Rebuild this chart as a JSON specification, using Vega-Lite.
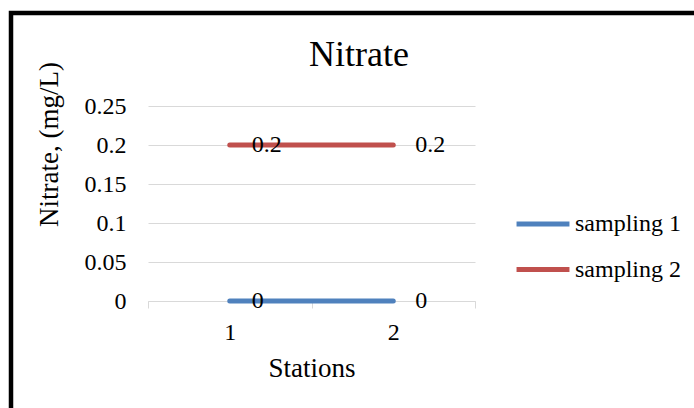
{
  "$schema": "https://vega.github.io/schema/vega-lite/v6.json",
  "autosize": {"type": "none"},
  "width": 690,
  "height": 402,
  "padding": {"left": 11, "top": 13, "right": -7, "bottom": -7},
  "background": "white",
  "title": {
    "text": "Nitrate",
    "frame": "group",
    "anchor": "middle",
    "baseline": "alphabetic",
    "offset": 0,
    "dx": 3,
    "dy": 89,
    "font": "Liberation Serif",
    "fontSize": 36,
    "fontWeight": "normal",
    "color": "#000000"
  },
  "data": {
    "values": [
      {"station": "1", "series": "sampling 1", "nitrate": 0},
      {"station": "2", "series": "sampling 1", "nitrate": 0},
      {"station": "1", "series": "sampling 2", "nitrate": 0.2},
      {"station": "2", "series": "sampling 2", "nitrate": 0.2}
    ]
  },
  "encoding": {
    "x": {
      "field": "station",
      "type": "ordinal",
      "bandPosition": 0.5,
      "scale": {"type": "band", "range": [137, 464], "paddingInner": 0, "paddingOuter": 0},
      "axis": {
        "orient": "bottom",
        "offset": -114,
        "title": "Stations",
        "titleFont": "Liberation Serif",
        "titleFontSize": 27,
        "titleFontWeight": "normal",
        "titleColor": "#000000",
        "titleBaseline": "alphabetic",
        "titleY": 75,
        "labelAngle": 0,
        "labelFont": "Liberation Serif",
        "labelFontSize": 24,
        "labelColor": "#000000",
        "labelPadding": 12,
        "tickBand": "extent",
        "tickSize": 7,
        "tickColor": "#D9D9D9",
        "domainColor": "#D9D9D9",
        "grid": false
      }
    },
    "y": {
      "field": "nitrate",
      "type": "quantitative",
      "scale": {"domain": [0, 0.25], "range": [288, 93], "nice": false, "zero": false},
      "axis": {
        "orient": "left",
        "offset": -137,
        "values": [0, 0.05, 0.1, 0.15, 0.2, 0.25],
        "format": "~g",
        "title": "Nitrate, (mg/L)",
        "titleFont": "Liberation Serif",
        "titleFontSize": 27,
        "titleFontWeight": "normal",
        "titleColor": "#000000",
        "titleBaseline": "alphabetic",
        "titleAlign": "center",
        "titleX": -91,
        "titleY": 131,
        "labelFont": "Liberation Serif",
        "labelFontSize": 24,
        "labelColor": "#000000",
        "labelPadding": 22,
        "ticks": false,
        "tickSize": 0,
        "domain": false,
        "grid": true,
        "gridColor": "#D9D9D9",
        "gridWidth": 1
      }
    }
  },
  "layer": [
    {
      "mark": {"type": "line", "strokeWidth": 5, "strokeCap": "round"},
      "encoding": {
        "color": {
          "field": "series",
          "type": "nominal",
          "scale": {"domain": ["sampling 1", "sampling 2"], "range": ["#4F81BD", "#C0504D"]},
          "legend": {
            "title": null,
            "orient": "none",
            "legendX": 503,
            "legendY": 182,
            "padding": 0,
            "symbolType": "stroke",
            "symbolSize": 2800,
            "symbolStrokeWidth": 5,
            "labelFont": "Liberation Serif",
            "labelFontSize": 24,
            "labelColor": "#000000",
            "labelOffset": 3,
            "rowPadding": 4.5
          }
        }
      }
    },
    {
      "mark": {
        "type": "text",
        "align": "left",
        "baseline": "middle",
        "dx": 22,
        "font": "Liberation Serif",
        "fontSize": 24,
        "color": "#000000"
      },
      "encoding": {
        "text": {"field": "nitrate", "type": "quantitative", "format": "~g"},
        "detail": {"field": "series"}
      }
    }
  ],
  "config": {
    "view": {"stroke": "#000000", "strokeWidth": 4.5, "fill": "white"}
  }
}
